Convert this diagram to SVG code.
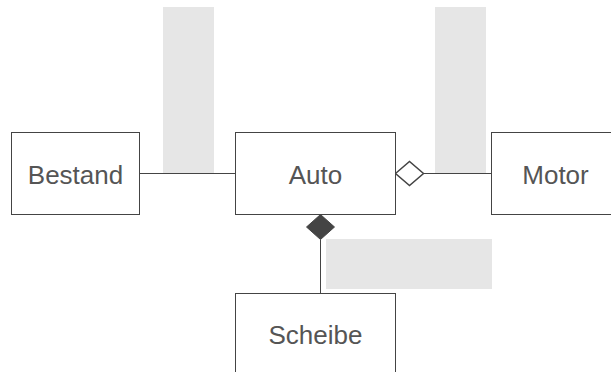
<svg xmlns="http://www.w3.org/2000/svg" width="611" height="372" viewBox="0 0 611 372">
<style>
.box{fill:#fff;stroke:#444;stroke-width:1}
.lbl{font-family:"Liberation Sans",Arial,sans-serif;font-size:26px;fill:#555;text-anchor:middle}
.bg{fill:#e6e6e6}
.ln{stroke:#444;stroke-width:1;fill:none}
</style>
<rect width="611" height="372" fill="#fff"/>
<g id="labels-bg">
<rect class="bg" x="163" y="7" width="51" height="166"/>
<rect class="bg" x="435" y="7" width="51" height="166"/>
<rect class="bg" x="326" y="239" width="166" height="50"/>
</g>
<g id="connectors">
<line class="ln" x1="139.5" y1="173.5" x2="235.5" y2="173.5"/>
<line class="ln" x1="423.5" y1="173.5" x2="491.5" y2="173.5"/>
<path d="M395.5 173.5 L409.5 161.5 L423.5 173.5 L409.5 185.5 Z" fill="#fff" stroke="#444" stroke-width="1.5"/>
<line class="ln" x1="320.5" y1="239.5" x2="320.5" y2="293.5"/>
<path d="M320.5 214.5 L334.5 227 L320.5 239.5 L306.5 227 Z" fill="#444" stroke="#444" stroke-width="1"/>
</g>
<g id="Bestand">
<rect class="box" x="11.5" y="132.5" width="128" height="82"/>
<text class="lbl" x="75.5" y="184">Bestand</text>
</g>
<g id="Auto">
<rect class="box" x="235.5" y="132.5" width="160" height="82"/>
<text class="lbl" x="315.5" y="184">Auto</text>
</g>
<g id="Motor">
<rect class="box" x="491.5" y="132.5" width="128" height="82"/>
<text class="lbl" x="555.5" y="184">Motor</text>
</g>
<g id="Scheibe">
<rect class="box" x="235.5" y="293.5" width="160" height="82"/>
<text class="lbl" x="315.5" y="344">Scheibe</text>
</g>
</svg>
